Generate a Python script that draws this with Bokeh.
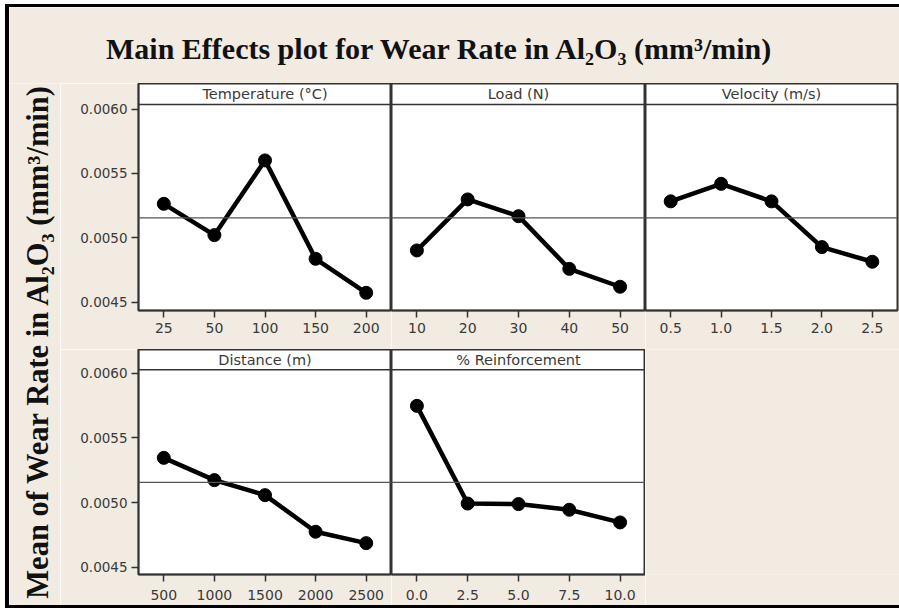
import math
from bokeh.plotting import figure
from bokeh.models import Range1d, FactorRange, FixedTicker, Span, Label, Spacer, PrintfTickFormatter
from bokeh.layouts import row, column
from bokeh.core.properties import value
from bokeh.embed import file_html
from bokeh.resources import INLINE

TITLE = "Main Effects plot for Wear Rate in Al\u2082O\u2083 (mm\u00b3/min)"
YLABEL = "Mean of Wear Rate in  Al\u2082O\u2083 (mm\u00b3/min)"

temp_levels = ["25", "50", "100", "150", "200"]
temp_means = [0.005264, 0.005021, 0.005601, 0.004837, 0.004573]

load_levels = ["10", "20", "30", "40", "50"]
load_means = [0.004902, 0.005298, 0.005168, 0.004759, 0.004620]

vel_levels = ["0.5", "1.0", "1.5", "2.0", "2.5"]
vel_means = [0.005283, 0.005419, 0.005283, 0.004928, 0.004814]

dist_levels = ["500", "1000", "1500", "2000", "2500"]
dist_means = [0.005345, 0.005173, 0.005057, 0.004774, 0.004686]

reinf_levels = ["0.0", "2.5", "5.0", "7.5", "10.0"]
reinf_means = [0.005747, 0.004992, 0.004988, 0.004944, 0.004846]

grand_mean = 0.005155
y_ticks = [0.0045, 0.0050, 0.0055, 0.0060]

BG = "#F1EBE2"
INK = "#333333"
LABEL_INK = "#3a3a3a"
SANS = "DejaVu Sans"
SERIF = "Liberation Serif"

TOP = dict(y=(0.0044356, 0.006198), hdr=0.006035, hdr_text=0.006117, height=266, bottom=39, standoff=5)
BOT = dict(y=(0.0044436, 0.0061824), hdr=0.0060255, hdr_text=0.006104, height=256, bottom=31, standoff=8)


def panel(name, levels, means, geo, width, left, right, show_y):
    p = figure(width=width, height=geo["height"], x_range=FactorRange(*levels),
               y_range=Range1d(*geo["y"]), output_backend="svg", toolbar_location=None,
               min_border_left=left, min_border_right=right, min_border_top=0,
               min_border_bottom=geo["bottom"])
    p.background_fill_color = "white"
    p.border_fill_color = BG
    p.outline_line_color = INK
    p.outline_line_width = 2
    p.xgrid.visible = False
    p.ygrid.visible = False

    p.xaxis.axis_line_color = INK
    p.xaxis.axis_line_width = 1.5
    p.xaxis.major_tick_line_color = INK
    p.xaxis.major_tick_line_width = 1.5
    p.xaxis.major_tick_out = 7
    p.xaxis.major_tick_in = 0
    p.xaxis.minor_tick_line_color = None
    p.xaxis.major_label_text_font = SANS
    p.xaxis.major_label_text_font_size = "14px"
    p.xaxis.major_label_text_color = LABEL_INK
    p.xaxis.major_label_standoff = geo["standoff"]
    p.xaxis.group_text_font_size = "0px"
    p.xaxis.separator_line_color = None

    if show_y:
        p.yaxis.ticker = FixedTicker(ticks=y_ticks)
        p.yaxis.formatter = PrintfTickFormatter(format="%.4f")
        p.yaxis.axis_line_color = INK
        p.yaxis.axis_line_width = 1.5
        p.yaxis.major_tick_line_color = INK
        p.yaxis.major_tick_line_width = 1.5
        p.yaxis.major_tick_out = 7
        p.yaxis.major_tick_in = 0
        p.yaxis.minor_tick_line_color = None
        p.yaxis.major_label_text_font = SANS
        p.yaxis.major_label_text_font_size = "13.5px"
        p.yaxis.major_label_text_color = LABEL_INK
        p.yaxis.major_label_standoff = 4
    else:
        p.yaxis.visible = False

    p.add_layout(Span(location=geo["hdr"], dimension="width", line_color=INK, line_width=1.5))
    p.add_layout(Span(location=grand_mean, dimension="width", line_color="#555555", line_width=1.2))
    p.text(x=[levels[len(levels) // 2]], y=[geo["hdr_text"]], text=[name],
           text_font=value(SANS), text_font_size="14.5px", text_color=LABEL_INK,
           text_align="center", text_baseline="middle")

    p.line(x=levels, y=means, line_width=4.5, line_color="black")
    p.scatter(x=levels, y=means, size=13, fill_color="black", line_color="black")
    return p


p1 = panel("Temperature (\u00b0C)", temp_levels, temp_means, TOP, 331, 78, 0, True)
p2 = panel("Load (N)", load_levels, load_means, TOP, 254, 0, 0, False)
p3 = panel("Velocity (m/s)", vel_levels, vel_means, TOP, 254, 0, 2, False)
p4 = panel("Distance (m)", dist_levels, dist_means, BOT, 331, 78, 0, True)
p5 = panel("% Reinforcement", reinf_levels, reinf_means, BOT, 254, 0, 0, False)


def blank(width, height):
    f = figure(width=width, height=height, x_range=Range1d(0, 1), y_range=Range1d(0, 1),
               output_backend="svg", toolbar_location=None, min_border=0)
    f.axis.visible = False
    f.grid.visible = False
    f.outline_line_color = None
    f.background_fill_color = BG
    f.border_fill_color = BG
    return f


title_fig = blank(890, 76)
title_fig.add_layout(Label(x=0.484, y=0.46, text=TITLE, text_font=SERIF, text_font_style="bold",
                           text_font_size="30px", text_color="#111111",
                           text_align="center", text_baseline="middle"))

ylab_fig = blank(51, 522)
ylab_fig.add_layout(Label(x=0.56, y=0.514, text=YLABEL, angle=math.pi / 2, text_font=SERIF,
                          text_font_style="bold", text_font_size="30.5px", text_color="#111111",
                          text_align="center", text_baseline="middle"))

empty_cell = blank(254, 256)

grid = column(row(p1, p2, p3), row(p4, p5, empty_cell))
content = column(
    Spacer(width=890, height=3, styles={"background-color": "black"}),
    title_fig,
    row(ylab_fig, grid),
    Spacer(width=890, height=3, styles={"background-color": "black"}),
)
root = column(
    Spacer(width=899, height=4),
    row(Spacer(width=5, height=605),
        Spacer(width=4, height=604, styles={"background-color": "black"}),
        content),
)

open("out.html", "w").write(file_html(root, INLINE))
